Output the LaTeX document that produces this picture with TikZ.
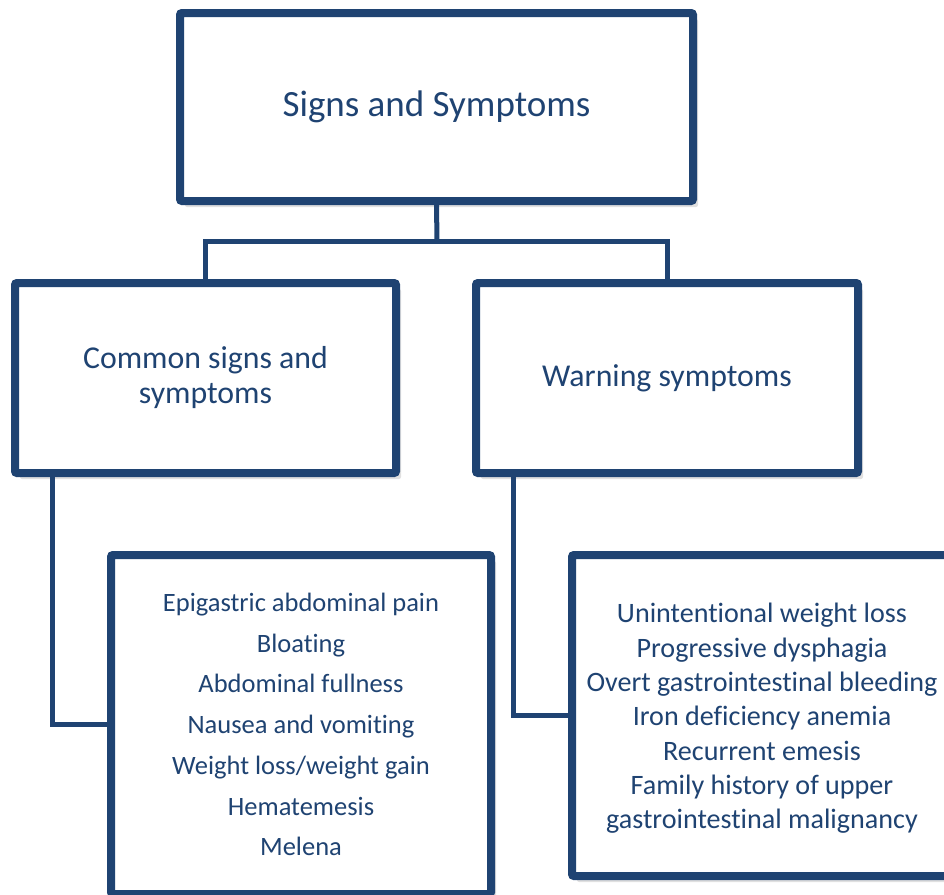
\documentclass[tikz,border=0pt]{standalone}
\usepackage{fontspec}
\setmainfont[Ligatures=NoCommon]{Carlito}
\usetikzlibrary{shadows}
\definecolor{navy}{RGB}{31,67,114}
\tikzset{
  box/.style={draw=navy, line width=8pt, fill=white, rounded corners=2pt,
    text=navy, align=center,
    drop shadow={shadow xshift=5pt, shadow yshift=-6pt, fill=black, opacity=0.12}},
  txt/.style={text=navy, align=center, inner sep=0pt},
  link/.style={draw=navy, line width=5pt}
}
\begin{document}
\begin{tikzpicture}[x=1pt,y=-1pt]
\useasboundingbox (0,0) rectangle (944,894);
% boxes
\node[box, minimum width=513pt, minimum height=188pt, font=\fontsize{37}{44}\selectfont] (top) at (436.5,107) {\raisebox{-3pt}{Signs and Symptoms}};
\node[box, minimum width=381pt, minimum height=190pt, font=\fontsize{31.8}{35}\selectfont] (lm) at (205.5,378) {\raisebox{-2pt}{Common signs and}\\\raisebox{-2pt}{symptoms}};
\node[box, minimum width=382pt, minimum height=190pt, font=\fontsize{31.8}{35}\selectfont] (rm) at (667,378) {\raisebox{-2pt}{Warning symptoms}};
\coordinate (j) at (437,241);
\node[box, minimum width=380pt, minimum height=339pt, font=\fontsize{26.5}{40.7}\selectfont] (lb) at (301,724.5) {Epigastric abdominal pain\\Bloating\\Abdominal fullness\\Nausea and vomiting\\Weight loss/weight gain\\Hematemesis\\Melena};
\node[box, minimum width=380pt, minimum height=321pt] (rb) at (762,715.5) {};
\node[txt, font=\fontsize{28.1}{34.3}\selectfont] (rbt) at (762,718.5) {Unintentional weight loss\\Progressive dysphagia\\Overt gastrointestinal bleeding\\Iron deficiency anemia\\Recurrent emesis\\Family history of upper\\gastrointestinal malignancy};
% connectors
\draw[link] (top.south) -- (j);
\draw[link] (lm.north) |- (j) -| (rm.north);
\draw[link] ([xshift=41pt]lm.south west) |- (lb.west);
\draw[link] ([xshift=41pt]rm.south west) |- (rb.west);
\end{tikzpicture}
\end{document}
